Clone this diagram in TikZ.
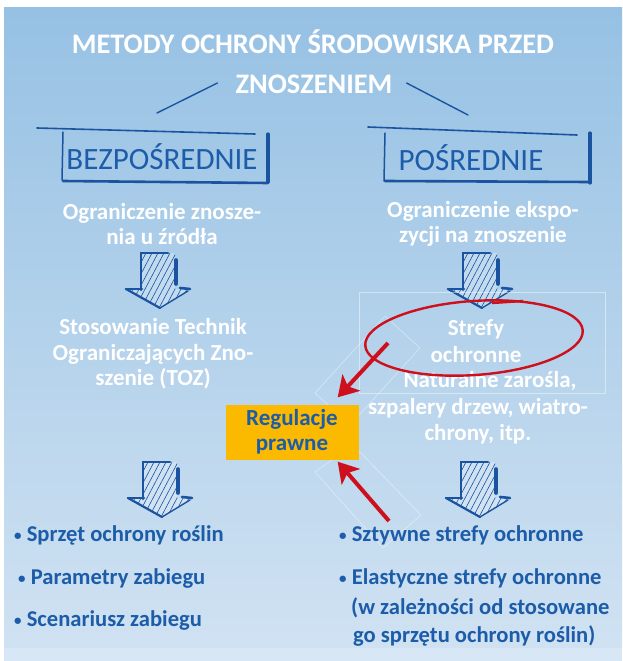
\documentclass[tikz,border=0pt]{standalone}
\usepackage{fontspec}
\setmainfont{Carlito}
\usetikzlibrary{arrows.meta}

\definecolor{skytop}{RGB}{150,193,228}
\definecolor{skybot}{RGB}{208,226,242}
\definecolor{stripcol}{RGB}{216,231,245}
\definecolor{inkblue}{RGB}{26,84,160}
\definecolor{textblue}{RGB}{28,92,168}
\definecolor{redink}{RGB}{206,16,28}
\definecolor{signorange}{RGB}{251,185,0}

\newcommand{\dotmark}{{\fontsize{15}{15}\selectfont\raisebox{1pt}{•}}}

\tikzset{
  pen/.style={draw=inkblue, line cap=round},
  hatch/.style={draw=inkblue, line width=0.6pt},
  redpen/.style={draw=redink, line width=2.4pt},
  redarrow/.style={draw=redink, line width=4pt, -{Stealth[length=20pt,width=24pt,inset=5pt]}},
  faint/.style={draw=white, opacity=0.45, line width=0.6pt},
  headtxt/.style={text=white, inner sep=0pt, font=\bfseries\fontsize{28.3}{32}\selectfont},
  boxtxt/.style={text=textblue, inner sep=0pt, font=\fontsize{31}{36}\selectfont},
  whitetxt/.style={text=white, inner sep=0pt, align=center, font=\bfseries\fontsize{23}{25.5}\selectfont},
  bullettxt/.style={text=textblue, inner sep=0pt, anchor=west, font=\bfseries\fontsize{22.6}{26}\selectfont},
  regbox/.style={fill=signorange, text=textblue, align=center, minimum width=133pt, minimum height=55pt, inner sep=0pt, font=\bfseries\fontsize{23}{25}\selectfont},
  sketchdown/.pic={
    \begin{scope}
      \clip (-17,0) -- (17,0) -- (17,36) -- (33,36) -- (2,55) -- (-33,36) -- (-17,36) -- cycle;
      \fill[white, opacity=0.25] (-35,-2) rectangle (35,57);
      \foreach \k in {-66,-60,...,36}
        \draw[hatch] (\k,57) -- (\k+30,0);
    \end{scope}
    \draw[pen, line width=2.6pt] (-17,37) -- (-17,0) -- (10,0);
    \draw[pen, line width=3.6pt] (18,7) -- (18,31);
    \draw[pen, line width=2.6pt] (-32,36) -- (-16,36);
    \draw[pen, line width=2.2pt] (-32,36) -- (2,55);
    \draw[pen, line width=1.4pt] (2,55) -- (30,38);
    \draw[pen, line width=2.6pt] (22,35) -- (32,36);
  }
}

\begin{document}
\begin{tikzpicture}[x=1pt, y=-1pt]
    \useasboundingbox (0,0) rectangle (622,661);
    \fill[white] (0,0) rectangle (622,661);
    \shade[top color=skytop, bottom color=skybot] (4,8) rectangle (622,648);
    \fill[stripcol] (4,648) rectangle (622,661);

    % title
    \node[headtxt] at (313,42) (titleA) {METODY OCHRONY ŚRODOWISKA PRZED};
    \node[headtxt] at (314,84) (titleB) {ZNOSZENIEM};

    % the two kinds, in hand drawn frames
    \node[boxtxt] at (162,157) (bezL) {BEZPOŚREDNIE};
    \node[boxtxt] at (471,158) (posR) {POŚREDNIE};
    \coordinate (bezTop) at (157,113);
    \coordinate (posTop) at (468,115);
    \draw[pen, line width=1.4pt] ([shift={(-18,-1)}]titleB.west) -- (bezTop);
    \draw[pen, line width=1.4pt] ([shift={(14,-1)}]titleB.east) -- (posTop);

    \draw[pen, line width=1.6pt] (37,128) -- (255,134);
    \draw[pen, line width=1.5pt] (63,132) -- (62,180);
    \draw[pen, line width=3.2pt] (268,134) -- (268,182);
    \draw[pen, line width=2.6pt] (63,181) -- (268,183);

    \draw[pen, line width=1.6pt] (368,127) -- (577,135);
    \draw[pen, line width=1.5pt] (385,133) -- (384,181);
    \draw[pen, line width=3.2pt] (590,133) -- (590,183);
    \draw[pen, line width=2.6pt] (385,181) -- (590,182);

    \node[whitetxt] at (162,224) (srcL) {Ograniczenie znosze-\\nia u źródła};
    \node[whitetxt] at (483,224) (srcR) {Ograniczenie ekspo-\\zycji na znoszenie};

    \foreach \ax/\ay in {158/253, 480/253, 160/462, 478/462}
        \pic at (\ax,\ay) {sketchdown};

    \node[whitetxt] at (153,354) (tozL) {Stosowanie Technik\\Ograniczających Zno-\\szenie (TOZ)};

    \draw[faint] (359,292) rectangle (605,393);
    \draw[faint] (385,316) -- (420,348) -- (350,425) -- (315,393) -- cycle;
    \draw[faint] (353,445) -- (421,515) -- (383,548) -- (315,472) -- cycle;

    \node[whitetxt, font=\bfseries\fontsize{23}{26.5}\selectfont] at (476,341) (strefyR) {Strefy\\ochronne};
    \node[whitetxt, font=\bfseries\fontsize{23}{26.5}\selectfont] at (478,408) (natR) {\hspace*{24pt}Naturalne zarośla,\\szpalery drzew, wiatro-\\chrony, itp.};

    \draw[redpen, rotate around={4:(474,338)}] (474,338) ellipse [x radius=109, y radius=37];
    \draw[redpen] (492,303) -- (523,301);

    \node[regbox] at (292,432) (reg) {Regulacje\\prawne};
    \coordinate (redFromTop) at (388,343);
    \coordinate (redFromBot) at (389,521);
    \draw[redarrow] (redFromTop) -- ([shift={(-21,-7)}]reg.north east);
    \draw[redarrow] (redFromBot) -- ([shift={(-21,2)}]reg.south east);

    % what follows from each
    \node[bullettxt] at (14,535) (bulL1) {\dotmark\ Sprzęt ochrony roślin};
    \node[bullettxt] at (18,578) (bulL2) {\dotmark\ Parametry zabiegu};
    \node[bullettxt] at (14,620) (bulL3) {\dotmark\ Scenariusz zabiegu};
    \node[bullettxt] at (339,535) (bulR1) {\dotmark\ Sztywne strefy ochronne};
    \node[bullettxt] at (339,578) (bulR2) {\dotmark\ Elastyczne strefy ochronne};
    \node[bullettxt] at (351,608) (bulR3) {(w zależności od stosowane};
    \node[bullettxt] at (353,636) (bulR4) {go sprzętu ochrony roślin)};
\end{tikzpicture}
\end{document}
